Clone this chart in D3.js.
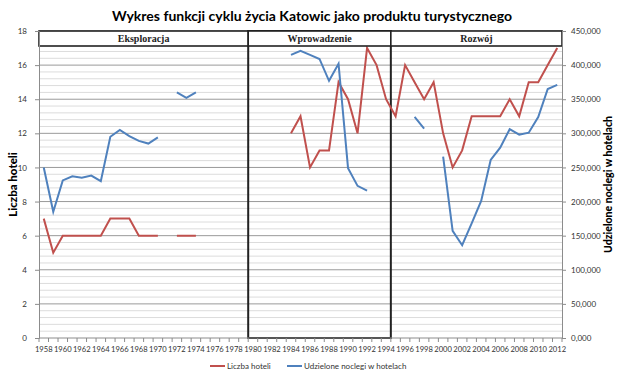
<!DOCTYPE html>
<html>
<head>
<meta charset="utf-8">
<script src="https://cdn.jsdelivr.net/npm/d3@7"></script>
<style>
    body { margin: 0; background: #fff; }
    svg text { font-family: Lato, "Open Sans", sans-serif; }
</style>
</head>
<body>
<div id="chart"></div>
<script>
// data
var years = d3.range(1958, 2013);
var hotels = [7, 5, 6, 6, 6, 6, 6, 7, 7, 7, 6, 6, 6, null, 6, 6, 6,
    null, null, null, null, null, null, null, null, null,
    12, 13, 10, 11, 11, 15, 14, 12, 17, 16, 14,
    13, 16, 15, 14, 15, 12, 10, 11, 13, 13, 13, 13, 14, 13, 15, 15, 16, 17];
var nights = [250000, 185000, 231000, 237000, 235000, 238000, 230000, 295000, 305000, 296000, 289000, 285000, 294000, null, 360000, 352000, 360000,
    null, null, null, null, null, null, null, null, null,
    415000, 421000, 415000, 409000, 377000, 402000, 249000, 223000, 216000, null, null,
    null, null, 324000, 307000, null, 266000, 157000, 136000, 168000, 201000, 261000, 279000, 306000, 298000, 301000, 324000, 365000, 371000];
var leftTicks = d3.range(0, 19, 2);
var rightTicks = d3.range(0, 450001, 50000);
var phases = [
    {name: "Eksploracja", from: 1958, to: 1979},
    {name: "Wprowadzenie", from: 1980, to: 1994},
    {name: "Rozwój", from: 1995, to: 2012}
];
var seriesNames = ["Liczba hoteli", "Udzielone noclegi w hotelach"];
var colors = ["#c0504d", "#4f81bd"];

var svgWidth = 620, svgHeight = 375;
var margin = {top: 31, right: 58, bottom: 37, left: 39};
var chart_width = svgWidth - margin.left - margin.right;
var chart_height = svgHeight - margin.top - margin.bottom;

var svg = d3.select("#chart").append("svg")
    .attr("width", svgWidth)
    .attr("height", svgHeight);

var chart = svg.append("g")
    .attr("transform", `translate(${margin.left}, ${margin.top})`);

// scales
var xScale = d3.scaleBand().domain(years).range([0, chart_width]).padding(0);
var bw = xScale.bandwidth();
var xc = d => xScale(d) + bw / 2;
var yLeft = d3.scaleLinear().domain([0, 18]).range([chart_height, 0]);
var yRight = d3.scaleLinear().domain([0, 450000]).range([chart_height, 0]);

// gridlines: minor every 0.4, major every 2
chart.append("g").selectAll("line")
    .data(d3.range(0, 18.01, 0.4).filter(v => Math.abs(v / 2 - Math.round(v / 2)) > 0.01))
    .enter().append("line")
    .attr("x1", 0).attr("x2", chart_width)
    .attr("y1", d => yLeft(d)).attr("y2", d => yLeft(d))
    .attr("stroke", "#dcdcdc").attr("stroke-width", 1);

chart.append("g").selectAll("line")
    .data(leftTicks.slice(1))
    .enter().append("line")
    .attr("x1", 0).attr("x2", chart_width)
    .attr("y1", d => yLeft(d)).attr("y2", d => yLeft(d))
    .attr("stroke", "#9a9a9a").attr("stroke-width", 1);

// phase boxes
var px0 = p => xScale(p.from);
var px1 = p => xScale(p.to) + bw;
chart.append("rect")
    .attr("x", px0(phases[1])).attr("y", 0)
    .attr("width", px1(phases[1]) - px0(phases[1]))
    .attr("height", chart_height)
    .attr("fill", "none").attr("stroke", "#222").attr("stroke-width", 2);

// lines
var lineLeft = d3.line()
    .defined(d => d[1] != null)
    .x(d => xc(d[0])).y(d => yLeft(d[1]));
var lineRight = d3.line()
    .defined(d => d[1] != null)
    .x(d => xc(d[0])).y(d => yRight(d[1]));

chart.append("path")
    .datum(years.map((y, i) => [y, hotels[i]]))
    .attr("d", lineLeft)
    .attr("fill", "none").attr("stroke", colors[0]).attr("stroke-width", 2);

chart.append("path")
    .datum(years.map((y, i) => [y, nights[i]]))
    .attr("d", lineRight)
    .attr("fill", "none").attr("stroke", colors[1]).attr("stroke-width", 2);

// header boxes
var headH = 15;
var heads = chart.append("g");
heads.selectAll("rect")
    .data(phases)
    .enter().append("rect")
    .attr("x", d => px0(d)).attr("y", 0)
    .attr("width", d => px1(d) - px0(d)).attr("height", headH)
    .attr("fill", "#fff").attr("stroke", "#222").attr("stroke-width", 1.6);
heads.selectAll("text")
    .data(phases)
    .enter().append("text")
    .attr("x", d => (px0(d) + px1(d)) / 2)
    .attr("y", headH / 2 + 3.5)
    .attr("text-anchor", "middle")
    .style("font-family", "'Liberation Serif', serif")
    .style("font-weight", "bold")
    .style("font-size", "10px")
    .attr("fill", "#222")
    .text(d => d.name);

// axes
var leftAxis = d3.axisLeft(yLeft).tickValues(leftTicks).tickSize(4).tickPadding(8);
var rightAxis = d3.axisRight(yRight).tickValues(rightTicks).tickSize(4).tickPadding(5)
    .tickFormat(d => d === 0 ? "0,000" : d3.format(",")(d));

var gl = chart.append("g").call(leftAxis);
var gr = chart.append("g").attr("transform", `translate(${chart_width}, 0)`).call(rightAxis);
[gl, gr].forEach(function(g) {
    g.select(".domain").attr("stroke", "#8c8c8c");
    g.selectAll(".tick line").attr("stroke", "#8c8c8c");
    g.selectAll(".tick text").attr("fill", "#333").style("font-size", "8px");
});

var gx = chart.append("g").attr("transform", `translate(0, ${chart_height})`);
gx.append("line").attr("x1", 0).attr("x2", chart_width)
    .attr("stroke", "#8c8c8c");
gx.selectAll("line.tk")
    .data(years.concat([2013]))
    .enter().append("line")
    .attr("class", "tk")
    .attr("x1", d => d === 2013 ? chart_width : xScale(d))
    .attr("x2", d => d === 2013 ? chart_width : xScale(d))
    .attr("y1", 0).attr("y2", 4)
    .attr("stroke", "#8c8c8c");
gx.selectAll("text")
    .data(years.filter(y => y % 2 === 0))
    .enter().append("text")
    .attr("x", d => xc(d))
    .attr("y", 14)
    .attr("text-anchor", "middle")
    .attr("fill", "#333")
    .style("font-size", "7.6px")
    .text(d => d);

// axis titles
var midY = margin.top + chart_height / 2;
svg.append("text")
    .attr("transform", "rotate(-90)")
    .attr("x", -midY).attr("y", 17)
    .attr("text-anchor", "middle")
    .style("font-weight", "900").style("font-size", "11.5px")
    .attr("fill", "#000")
    .text("Liczba hoteli");

svg.append("text")
    .attr("transform", "rotate(-90)")
    .attr("x", -midY).attr("y", 612)
    .attr("text-anchor", "middle")
    .style("font-weight", "900").style("font-size", "10.5px")
    .attr("fill", "#000")
    .text("Udzielone noclegi w hotelach");

// title
svg.append("text")
    .attr("x", 312).attr("y", 21)
    .attr("text-anchor", "middle")
    .style("font-weight", "bold").style("font-size", "14px")
    .attr("fill", "#000")
    .text("Wykres funkcji cyklu życia Katowic jako produktu turystycznego");

// legend
var legend = svg.append("g").attr("transform", "translate(210, 366)");
var lx = [0, 77];
seriesNames.forEach(function(name, i) {
    legend.append("line")
        .attr("x1", lx[i]).attr("x2", lx[i] + 15)
        .attr("stroke", colors[i]).attr("stroke-width", 2);
    legend.append("text")
        .attr("x", lx[i] + 17).attr("y", 3)
        .attr("fill", "#333")
        .style("font-size", "8px")
        .text(name);
});
</script>
</body>
</html>
